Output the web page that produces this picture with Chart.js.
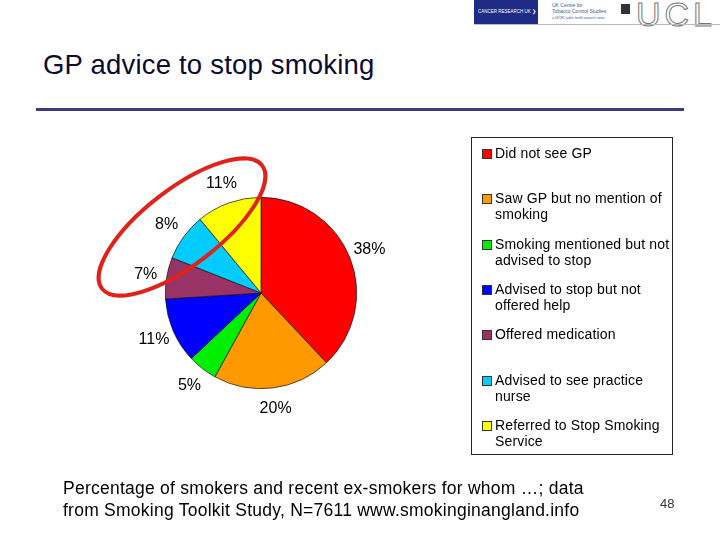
<!DOCTYPE html>
<html>
<head>
<meta charset="utf-8">
<script src="https://cdn.jsdelivr.net/npm/chart.js@4"></script>
<style>
  html,body{margin:0;padding:0;background:#fff;}
  body{width:720px;height:540px;position:relative;overflow:hidden;font-family:"Liberation Sans",Arial,sans-serif;}
  .abs{position:absolute;}
  #title{left:43px;top:49px;font-size:27.5px;letter-spacing:0.2px;color:#0a0a33;white-space:nowrap;}
  #rule{left:36px;top:108px;width:648px;height:3px;background:#3c3c82;}
  #pieCanvas{left:111px;top:143px;}
  #legendBox{left:471px;top:137px;width:202px;height:318px;border:1px solid #222;box-sizing:border-box;}
  .lg{position:absolute;left:495px;width:177px;font-size:14px;letter-spacing:0.15px;line-height:16px;color:#000;}
  .sw{position:absolute;left:-13px;top:4px;width:8px;height:8px;border:1px solid #333;}
  #caption{left:63px;top:477px;font-size:17.5px;letter-spacing:0.25px;line-height:22px;color:#000;white-space:nowrap;}
  #pageNo{left:660px;top:496px;font-size:13px;color:#333;}
  #cruk{left:474px;top:0;width:64px;height:24px;background:#1e2c86;color:#fff;font-size:4.5px;line-height:24px;padding-left:4px;box-sizing:border-box;white-space:nowrap;}
  #tcs{left:540px;top:2px;width:72px;height:22px;font-size:5px;line-height:6px;color:#3a5a9a;padding-left:12px;box-sizing:border-box;}
  #ucl{left:636px;top:-5px;font-size:34px;letter-spacing:4px;color:#fff;-webkit-text-stroke:1px #777;}
  #logoLine{left:474px;top:24px;width:246px;height:1px;background:#bbb;}
</style>
</head>
<body>
<div id="cruk" class="abs">CANCER RESEARCH UK &#x276F;</div>
<div id="tcs" class="abs">UK Centre for<br>Tobacco Control Studies<br><span style="font-size:3px">a UKCRC public health research centre</span></div>
<div class="abs" style="left:621px;top:4px;width:9px;height:10px;background:#333;"></div>
<div id="ucl" class="abs">UCL</div>
<div id="logoLine" class="abs"></div>

<div id="title" class="abs">GP advice to stop smoking</div>
<div id="rule" class="abs"></div>

<canvas id="pieCanvas" class="abs" width="300" height="300"></canvas>

<svg class="abs" style="left:0;top:0;" width="720" height="540">
  <ellipse cx="182" cy="227" rx="101" ry="38" transform="rotate(-37.6 182 227)" fill="none" stroke="#e0211c" stroke-width="4"/>
</svg>

<div id="legendBox" class="abs"></div>
<div id="legend"></div>

<div id="caption" class="abs">Percentage of smokers and recent ex-smokers for whom &hellip;; data<br>from Smoking Toolkit Study, N=7611 www.smokinginangland.info</div>
<div id="pageNo" class="abs">48</div>

<script>
// categories in the order they are drawn, clockwise from 12 o'clock
const categories = [
  'Did not see GP',
  'Saw GP but no mention of smoking',
  'Smoking mentioned but not advised to stop',
  'Advised to stop but not offered help',
  'Offered medication',
  'Advised to see practice nurse',
  'Referred to Stop Smoking Service'
];
const percents = [38, 20, 5, 11, 7, 8, 11];
const sliceColors = ['#ff0000','#ff9900','#00ee00','#0000ff','#993366','#00ccff','#ffff00'];

// html legend built from the same arrays
const legend = document.getElementById('legend');
categories.forEach((c,i)=>{
  let d = document.createElement('div');
  d.className = 'lg';
  d.style.top = (145 + i*45.3) + 'px';
  d.innerHTML = '<span class="sw" style="background:'+sliceColors[i]+'"></span>' + c;
  legend.appendChild(d);
});

// percent labels just outside each slice
const outsideLabels = {
  id:'outsideLabels',
  afterDatasetsDraw(chart){
    const ctx = chart.ctx;
    const meta = chart.getDatasetMeta(0);
    ctx.save();
    ctx.font = '16px "Liberation Sans", Arial, sans-serif';
    ctx.fillStyle = '#000';
    ctx.textAlign = 'center';
    ctx.textBaseline = 'middle';
    meta.data.forEach((arc,i)=>{
      const mid = (arc.startAngle + arc.endAngle)/2;
      const r = arc.outerRadius + 21;
      ctx.fillText(percents[i] + '%', arc.x + Math.cos(mid)*r, arc.y + Math.sin(mid)*r);
    });
    ctx.restore();
  }
};

new Chart(document.getElementById('pieCanvas'), {
  type:'pie',
  data:{
    labels:categories,
    datasets:[{
      data:percents,
      backgroundColor:sliceColors,
      borderColor:'#111',
      borderWidth:0.7
    }]
  },
  options:{
    responsive:false,
    animation:false,
    layout:{padding:54},
    plugins:{legend:{display:false}, tooltip:{enabled:false}}
  },
  plugins:[outsideLabels]
});
</script>
</body>
</html>
